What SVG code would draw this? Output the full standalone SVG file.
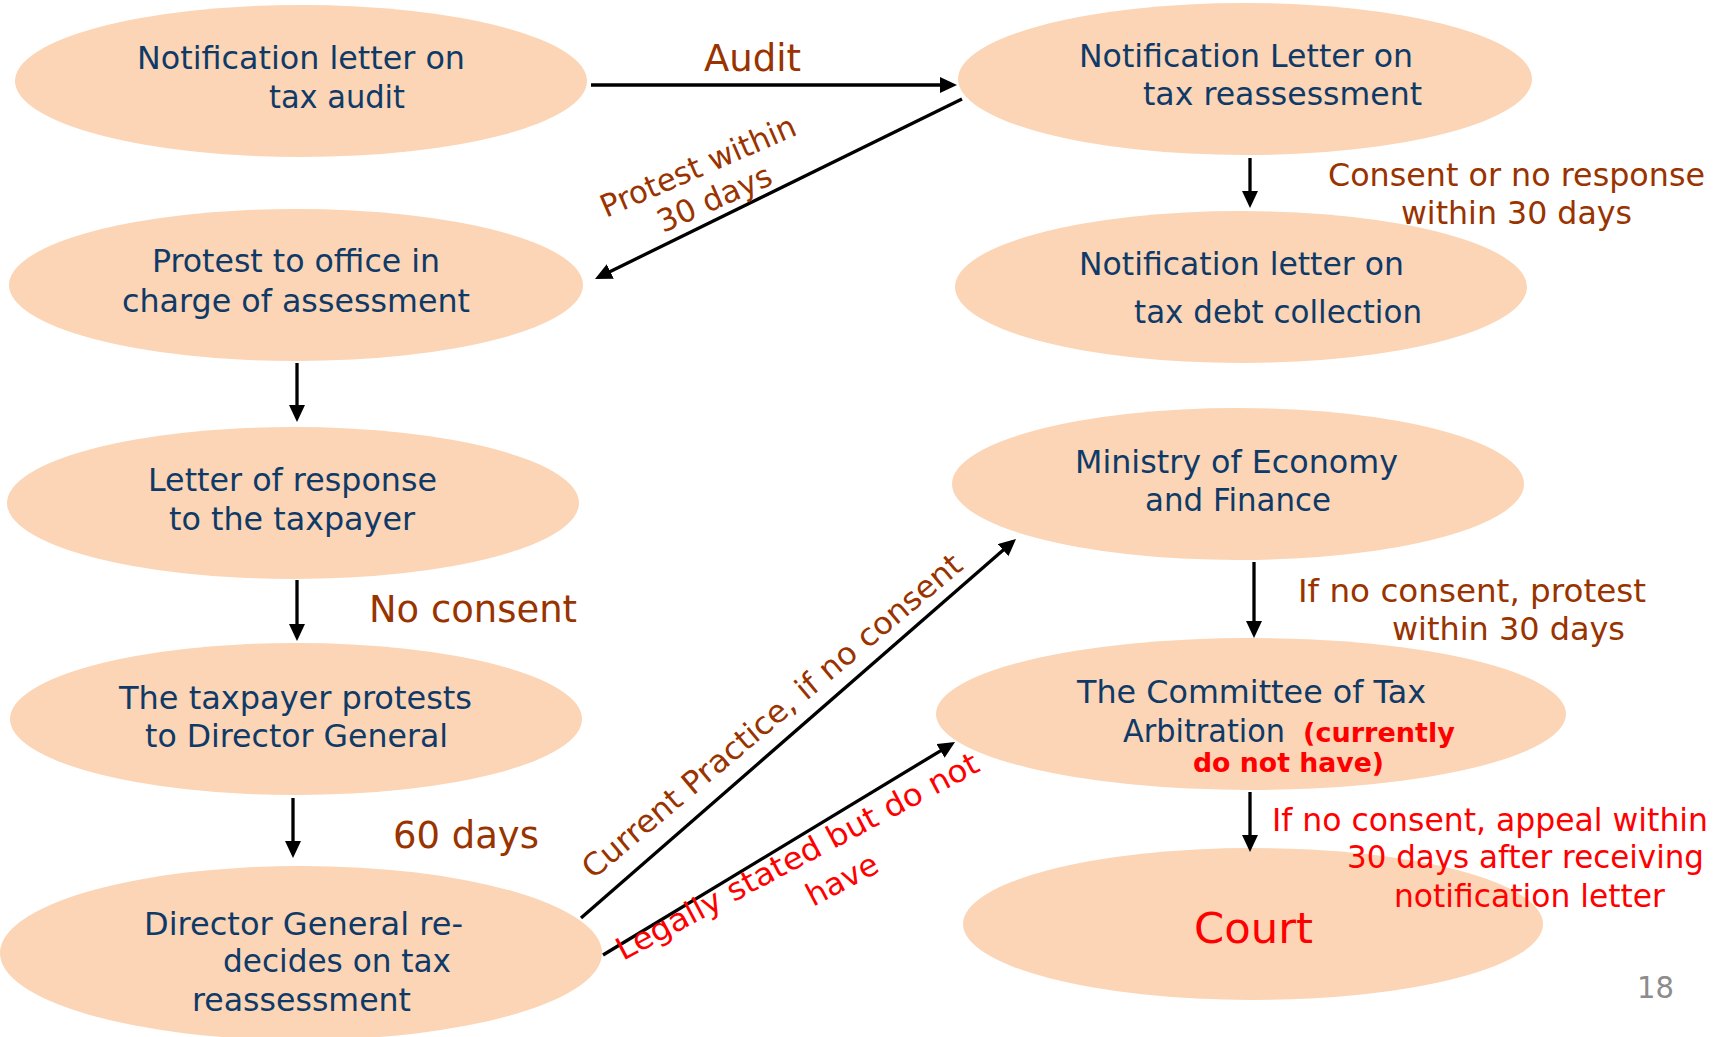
<svg xmlns="http://www.w3.org/2000/svg" width="1713" height="1037" viewBox="0 0 1713 1037">
  <style>
    .node ellipse { fill: #FBD5B5; }
    text { font-family: "DejaVu Sans", Verdana, "Liberation Sans", sans-serif; font-size: 32px; }
    .t { fill: #0F3A68; }
    .lbl { fill: #993300; }
    .red { fill: #FF0000; }
    .big { font-size: 37px; }
    .rot { font-size: 31px; }
    .bold { font-weight: bold; font-size: 27px; }
    .conn line { stroke: #000; stroke-width: 3.3; fill: none; marker-end: url(#ah); }
  </style>
  <defs>
    <marker id="ah" markerUnits="userSpaceOnUse" markerWidth="17" markerHeight="16" refX="13" refY="8" orient="auto">
      <path d="M0,0 L17,8 L0,16 z" fill="#000"/>
    </marker>
  </defs>

  <rect width="1713" height="1037" fill="#FFFFFF"/>

  <!-- nodes -->
  <g id="audit-notice" class="node">
    <ellipse cx="301" cy="81" rx="286" ry="76"/>
    <text class="t" x="137" y="69" textLength="328" lengthAdjust="spacingAndGlyphs">Notification letter on</text>
    <text class="t" x="269" y="108" textLength="136" lengthAdjust="spacingAndGlyphs">tax audit</text>
  </g>
  <g id="reassessment-notice" class="node">
    <ellipse cx="1245" cy="79" rx="287" ry="76"/>
    <text class="t" x="1079" y="67" textLength="334" lengthAdjust="spacingAndGlyphs">Notification Letter on</text>
    <text class="t" x="1143" y="105" textLength="279" lengthAdjust="spacingAndGlyphs">tax reassessment</text>
  </g>
  <g id="debt-collection-notice" class="node">
    <ellipse cx="1241" cy="287" rx="286" ry="76"/>
    <text class="t" x="1079" y="275" textLength="325" lengthAdjust="spacingAndGlyphs">Notification letter on</text>
    <text class="t" x="1134" y="323" textLength="288" lengthAdjust="spacingAndGlyphs">tax debt collection</text>
  </g>
  <g id="protest-office" class="node">
    <ellipse cx="296" cy="285" rx="287" ry="76"/>
    <text class="t" x="152" y="272" textLength="288" lengthAdjust="spacingAndGlyphs">Protest to office in</text>
    <text class="t" x="122" y="312" textLength="348" lengthAdjust="spacingAndGlyphs">charge of assessment</text>
  </g>
  <g id="response-letter" class="node">
    <ellipse cx="293" cy="503" rx="286" ry="76"/>
    <text class="t" x="148" y="491" textLength="289" lengthAdjust="spacingAndGlyphs">Letter of response</text>
    <text class="t" x="169" y="530" textLength="246" lengthAdjust="spacingAndGlyphs">to the taxpayer</text>
  </g>
  <g id="protest-dg" class="node">
    <ellipse cx="296" cy="719" rx="286" ry="76"/>
    <text class="t" x="119" y="709" textLength="353" lengthAdjust="spacingAndGlyphs">The taxpayer protests</text>
    <text class="t" x="145" y="747" textLength="303" lengthAdjust="spacingAndGlyphs">to Director General</text>
  </g>
  <g id="dg-decision" class="node">
    <ellipse cx="301" cy="953" rx="301" ry="87"/>
    <text class="t" x="144" y="935" textLength="319" lengthAdjust="spacingAndGlyphs">Director General re-</text>
    <text class="t" x="223" y="972" textLength="228" lengthAdjust="spacingAndGlyphs">decides on tax</text>
    <text class="t" x="192" y="1011" textLength="219" lengthAdjust="spacingAndGlyphs">reassessment</text>
  </g>
  <g id="ministry" class="node">
    <ellipse cx="1238" cy="484" rx="286" ry="76"/>
    <text class="t" x="1075" y="473" textLength="323" lengthAdjust="spacingAndGlyphs">Ministry of Economy</text>
    <text class="t" x="1145" y="511" textLength="186" lengthAdjust="spacingAndGlyphs">and Finance</text>
  </g>
  <g id="arbitration-committee" class="node">
    <ellipse cx="1251" cy="714" rx="315" ry="76"/>
    <text class="t" x="1077" y="703" textLength="349" lengthAdjust="spacingAndGlyphs">The Committee of Tax</text>
    <text class="t" x="1123" y="742" textLength="162" lengthAdjust="spacingAndGlyphs">Arbitration</text>
    <text class="red bold" x="1303" y="742" textLength="152" lengthAdjust="spacingAndGlyphs">(currently</text>
    <text class="red bold" x="1193" y="772" textLength="191" lengthAdjust="spacingAndGlyphs">do not have)</text>
  </g>
  <g id="court" class="node">
    <ellipse cx="1253" cy="924" rx="290" ry="76"/>
    <text class="red" x="1194" y="943" style="font-size:43px" textLength="119" lengthAdjust="spacingAndGlyphs">Court</text>
  </g>

  <!-- connectors -->
  <g id="connectors" class="conn">
    <line x1="591" y1="85" x2="953" y2="85"/>
    <line x1="962" y1="99" x2="598.6" y2="277.2"/>
    <line x1="1250" y1="158" x2="1250" y2="204"/>
    <line x1="297" y1="363" x2="297" y2="418"/>
    <line x1="297" y1="580" x2="297" y2="637"/>
    <line x1="293" y1="798" x2="293" y2="854"/>
    <line x1="1254" y1="562" x2="1254" y2="634"/>
    <line x1="1250" y1="792" x2="1250" y2="848"/>
    <line x1="581" y1="918" x2="1013" y2="541.6"/>
    <line x1="603" y1="955" x2="951.6" y2="744.1"/>
  </g>

  <!-- connector labels -->
  <g id="labels">
    <text class="lbl big" x="704" y="71" textLength="97" lengthAdjust="spacingAndGlyphs">Audit</text>
    <text class="lbl rot" x="606" y="218" transform="rotate(-23.5 606 218)" textLength="210" lengthAdjust="spacingAndGlyphs">Protest within</text>
    <text class="lbl rot" x="663" y="233" transform="rotate(-24 663 233)" textLength="122" lengthAdjust="spacingAndGlyphs">30 days</text>
    <text class="lbl" x="1328" y="186" textLength="377" lengthAdjust="spacingAndGlyphs">Consent or no response</text>
    <text class="lbl" x="1401" y="224" textLength="231" lengthAdjust="spacingAndGlyphs">within 30 days</text>
    <text class="lbl big" x="369" y="622" textLength="208" lengthAdjust="spacingAndGlyphs">No consent</text>
    <text class="lbl big" x="393" y="848" textLength="146" lengthAdjust="spacingAndGlyphs">60 days</text>
    <text class="lbl rot" x="593" y="880" transform="rotate(-40 593 880)" textLength="485" lengthAdjust="spacingAndGlyphs">Current Practice, if no consent</text>
    <text class="red rot" x="623" y="961" transform="rotate(-28 623 961)" textLength="406" lengthAdjust="spacingAndGlyphs">Legally stated but do not</text>
    <text class="red rot" x="813" y="907" transform="rotate(-28 813 907)" textLength="77" lengthAdjust="spacingAndGlyphs">have</text>
    <text class="lbl" x="1298" y="602" textLength="348" lengthAdjust="spacingAndGlyphs">If no consent, protest</text>
    <text class="lbl" x="1392" y="640" textLength="233" lengthAdjust="spacingAndGlyphs">within 30 days</text>
    <text class="red" x="1272" y="831" textLength="436" lengthAdjust="spacingAndGlyphs">If no consent, appeal within</text>
    <text class="red" x="1347" y="868" textLength="357" lengthAdjust="spacingAndGlyphs">30 days after receiving</text>
    <text class="red" x="1394" y="907" textLength="271" lengthAdjust="spacingAndGlyphs">notification letter</text>
  </g>

  <text x="1637" y="998" fill="#8C8C8C" style="font-size:30px" textLength="37" lengthAdjust="spacingAndGlyphs">18</text>
</svg>
